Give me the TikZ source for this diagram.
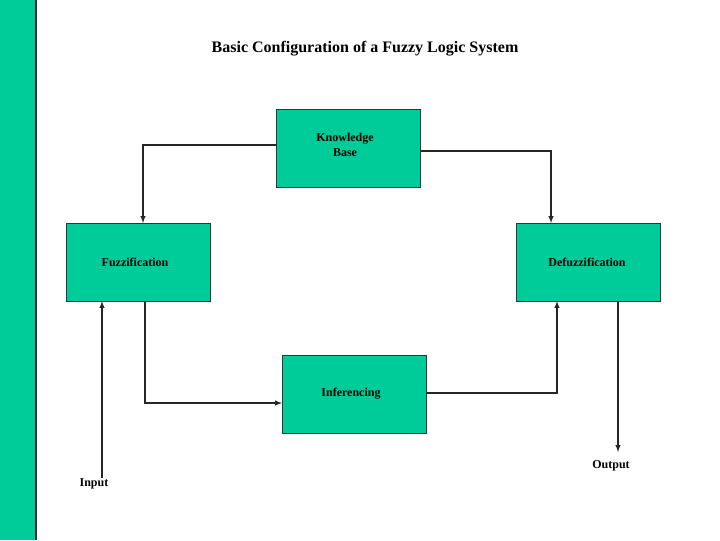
\documentclass[tikz,border=0pt]{standalone}
\usepackage{fontspec}
\setmainfont{Liberation Serif}
\definecolor{fz}{HTML}{00CC99}
\begin{document}
\begin{tikzpicture}[x=0.75pt,y=-0.75pt,
  box/.style={draw=black!80,fill=fz,minimum width=108pt,minimum height=58.5pt,inner sep=0pt},
  lbl/.style={font=\bfseries\small,align=center},
  conn/.style={draw=black!85,line width=0.8pt,-latex}]
\useasboundingbox (0,0) rectangle (720,540);
\fill[fz] (0,0) rectangle (36,540);
\draw[black!80,line width=1pt] (36,0) -- (36,540);
\node[font=\bfseries\large] (title) at (365,49) {Basic Configuration of a Fuzzy Logic System};
\node[box] (kb) at (348,148) {};
\node[lbl,anchor=center] (kbt) at (345,145) {Knowledge\\Base};
\node[box] (fz) at (138,262) {};
\node[lbl] (fzt) at (135,262) {Fuzzification};
\node[box] (dz) at (588,262) {};
\node[lbl] (dzt) at (587,262) {Defuzzification};
\node[box] (inf) at (354,394) {};
\node[lbl] (inft) at (351,394) {Inferencing};
\coordinate (kbl) at (276,145);
\coordinate (kbr) at (420,151);
\draw[conn] (kbl) -| (143,223);
\draw[conn] (kbr) -| (551,223);
\draw[conn] (145,301) |- (282,403);
\draw[conn] (426,393) -| (557,301);
\node[lbl] (in) at (94,484) {Input};
\node[lbl] (out) at (611,466) {Output};
\draw[conn] (102,478) -- (102,301);
\draw[conn] (618,301) -- (618,452);
\end{tikzpicture}
\end{document}
